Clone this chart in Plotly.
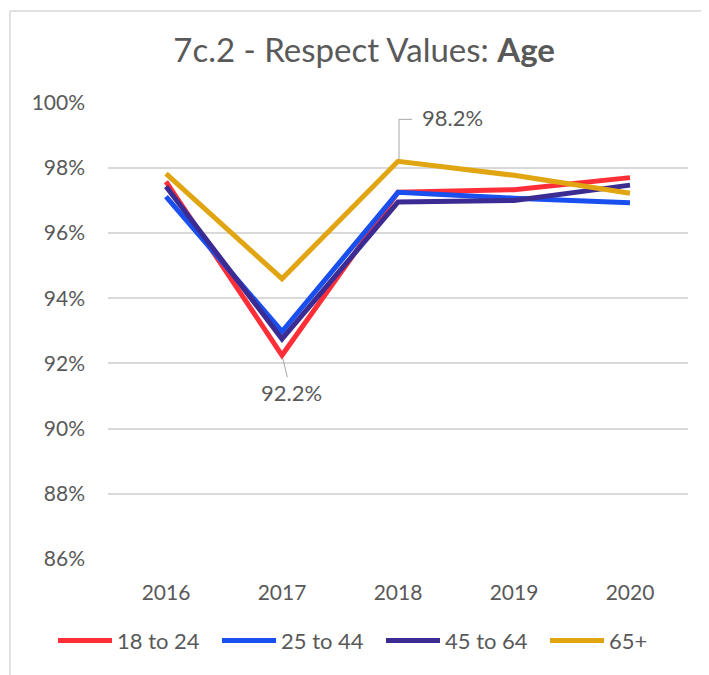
import plotly.graph_objects as go

years = ['2016', '2017', '2018', '2019', '2020']
age_18_24 = [97.58, 92.25, 97.25, 97.33, 97.7]
age_25_44 = [97.12, 92.98, 97.25, 97.07, 96.93]
age_45_64 = [97.43, 92.75, 96.95, 97.0, 97.47]
age_65_plus = [97.82, 94.6, 98.2, 97.77, 97.22]

series = [
    ('18 to 24', age_18_24, '#FF2E37'),
    ('25 to 44', age_25_44, '#1A4FEF'),
    ('45 to 64', age_45_64, '#3B2C94'),
    ('65+', age_65_plus, '#E0A510'),
]

FONT = 'Lato'
GREY = '#595959'

fig = go.Figure()
for name, vals, color in series:
    fig.add_trace(go.Scatter(x=years, y=vals, mode='lines', name=name,
                             line=dict(color=color, width=5)))

# labels for the low and the high point (category index on the x axis)
lo_i = age_18_24.index(min(age_18_24))
hi_i = age_65_plus.index(max(age_65_plus))

fig.add_annotation(x=lo_i, y=age_18_24[lo_i], text='%.1f%%' % age_18_24[lo_i],
                   showarrow=True, arrowhead=0, arrowwidth=1, arrowcolor='#A6A6A6',
                   ax=9, ay=37, standoff=3, font=dict(size=22, color=GREY, family=FONT))

fig.add_shape(type='path', xref='x', yref='y', xsizemode='pixel', ysizemode='pixel',
              xanchor=hi_i, yanchor=age_65_plus[hi_i],
              path='M 1 2 L 1 42 L 14 42', line=dict(color='#A6A6A6', width=1))
fig.add_annotation(x=hi_i, y=age_65_plus[hi_i], text='%.1f%%' % age_65_plus[hi_i],
                   showarrow=False, xanchor='left', yanchor='middle', xshift=22, yshift=44,
                   font=dict(size=22, color=GREY, family=FONT))

fig.update_layout(
    width=701, height=667,
    paper_bgcolor='white', plot_bgcolor='white',
    margin=dict(l=100, r=21, t=94, b=116),
    font=dict(family=FONT, color=GREY, size=21),
    title=dict(text='7c.2 - Respect Values: <b>Age</b>', x=0.508, xanchor='center',
               y=0.937, yanchor='middle', font=dict(size=33, color=GREY, family=FONT)),
    showlegend=True,
    legend=dict(orientation='h', x=-0.048, xanchor='left', y=-0.179, yanchor='middle',
                font=dict(size=22, color=GREY, family=FONT), itemwidth=54,
                entrywidth=95, entrywidthmode='pixels', tracegroupgap=0),
    xaxis=dict(type='category', range=[-0.5, len(years) - 0.5], autorange=False,
               showgrid=False, showline=False, ticks='',
               tickfont=dict(size=21), ticklabelstandoff=19),
    yaxis=dict(range=[86, 100.02], dtick=2, ticksuffix='%', showgrid=True,
               gridcolor='#D9D9D9', gridwidth=1.5, zeroline=False, showline=False,
               ticklabelstandoff=22, tickfont=dict(size=21)),
)

# chart frame
fig.add_shape(type='line', xref='paper', yref='paper', x0=-0.169, x1=-0.169, y0=-0.3, y1=1.199,
              line=dict(color='#D9D9D9', width=1.5))
fig.add_shape(type='line', xref='paper', yref='paper', x0=-0.169, x1=1.1, y0=1.199, y1=1.199,
              line=dict(color='#D9D9D9', width=1.5))

fig.write_html('out.html')
